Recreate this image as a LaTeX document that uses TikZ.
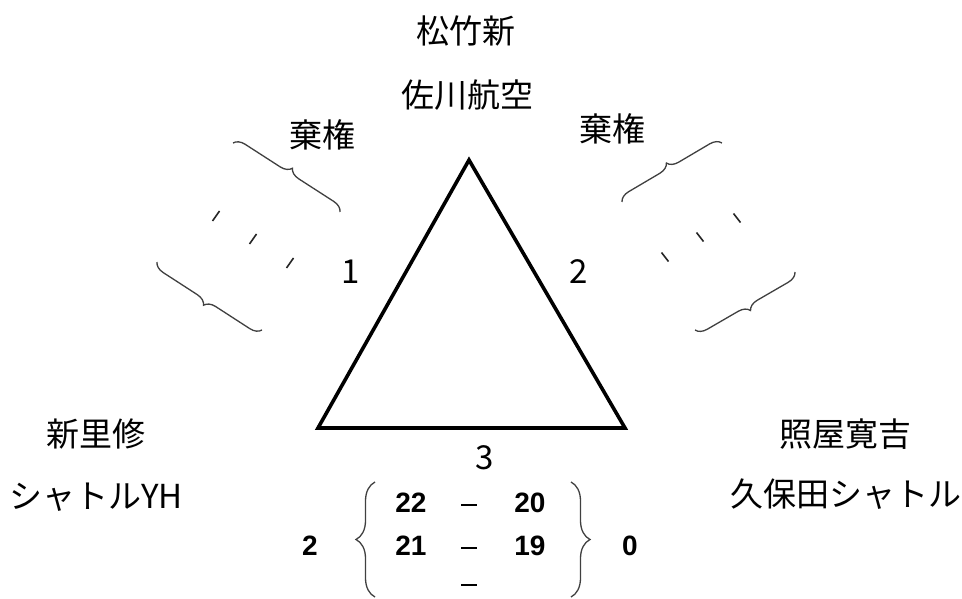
\documentclass[tikz,border=0pt]{standalone}
\usepackage{fontspec}
\setmainfont{Noto Sans CJK JP}
\newfontfamily\numfont{Liberation Sans}
\usetikzlibrary{decorations.pathreplacing}
\tikzset{
  jp/.style={inner sep=0pt, font=\fontsize{33}{36}\selectfont},
  sc/.style={inner sep=0pt, font=\numfont\bfseries\fontsize{28}{30}\selectfont},
  scdash/.style={draw=black, line width=1.6pt},
  smallbrace/.style={draw=black!75, line width=1.3pt, decorate, decoration={brace, amplitude=11pt}},
  bigbrace/.style={draw=black!75, line width=1.3pt, decorate, decoration={brace, amplitude=19pt}},
  tick/.style={draw=black!85, line width=1.6pt},
  tri/.style={draw=black, line width=3.6pt, line join=miter}
}
\begin{document}
\begin{tikzpicture}[x=1pt,y=-1pt]
\useasboundingbox[fill=white] (0,0) rectangle (962,599);
% triangle
\coordinate (A) at (469,160);
\coordinate (B) at (318,428);
\coordinate (C) at (625,428);
\draw[tri] (A) -- (B) -- (C) -- cycle;
% names
\node[jp] (t1) at (466,31) {松竹新};
\node[jp] (t2) at (467,95) {佐川航空};
\node[jp] (l1) at (96,434) {新里修};
\node[jp] (l2) at (96,497) {シャトルYH};
\node[jp] (r1) at (845,434) {照屋寛吉};
\node[jp] (r2) at (846,494) {久保田シャトル};
\node[jp] (k1) at (322,135) {棄権};
\node[jp] (k2) at (612,129) {棄権};
% side numbers
\node[jp] (n1) at (351,272) {1};
\node[jp] (n2) at (579,272) {2};
\node[jp] (n3) at (485,458) {3};
% small braces left
\coordinate (lb1a) at (233,143);
\coordinate (lb1b) at (340,212);
\coordinate (lb2a) at (262,330);
\coordinate (lb2b) at (157,262);
\draw[smallbrace] (lb1a) -- (lb1b);
\draw[smallbrace] (lb2a) -- (lb2b);
% small braces right
\coordinate (rb1a) at (622,202);
\coordinate (rb1b) at (722,143);
\coordinate (rb2a) at (795,272);
\coordinate (rb2b) at (695,330);
\draw[smallbrace] (rb1a) -- (rb1b);
\draw[smallbrace] (rb2a) -- (rb2b);
% ticks left
\foreach \x/\y [count=\i] in {216/216, 253/239, 290/263} {
  \coordinate (lt\i a) at (\x+3.5,\y-5);
  \coordinate (lt\i b) at (\x-3.5,\y+5);
  \draw[tick] (lt\i a) -- (lt\i b);
}
% ticks right
\foreach \x/\y [count=\i] in {737/218, 700/237, 665/257} {
  \coordinate (rt\i a) at (\x-3.5,\y-4.5);
  \coordinate (rt\i b) at (\x+3.5,\y+4.5);
  \draw[tick] (rt\i a) -- (rt\i b);
}
% score block
\node[sc] (sL) at (310,546) {2};
\node[sc] (sR) at (630,546) {0};
\coordinate (bLa) at (375,597);
\coordinate (bLb) at (375,482);
\coordinate (bRa) at (571,482);
\coordinate (bRb) at (571,597);
\draw[bigbrace] (bLa) -- (bLb);
\draw[bigbrace] (bRa) -- (bRb);
\node[sc] (a1) at (411,503) {22};
\node[sc] (b1) at (530,503) {20};
\node[sc] (a2) at (411,546) {21};
\node[sc] (b2) at (530,546) {19};
\foreach \y [count=\i] in {505,548,585} {
  \coordinate (d\i a) at (461,\y);
  \coordinate (d\i b) at (477,\y);
  \draw[scdash] (d\i a) -- (d\i b);
}
\end{tikzpicture}
\end{document}
